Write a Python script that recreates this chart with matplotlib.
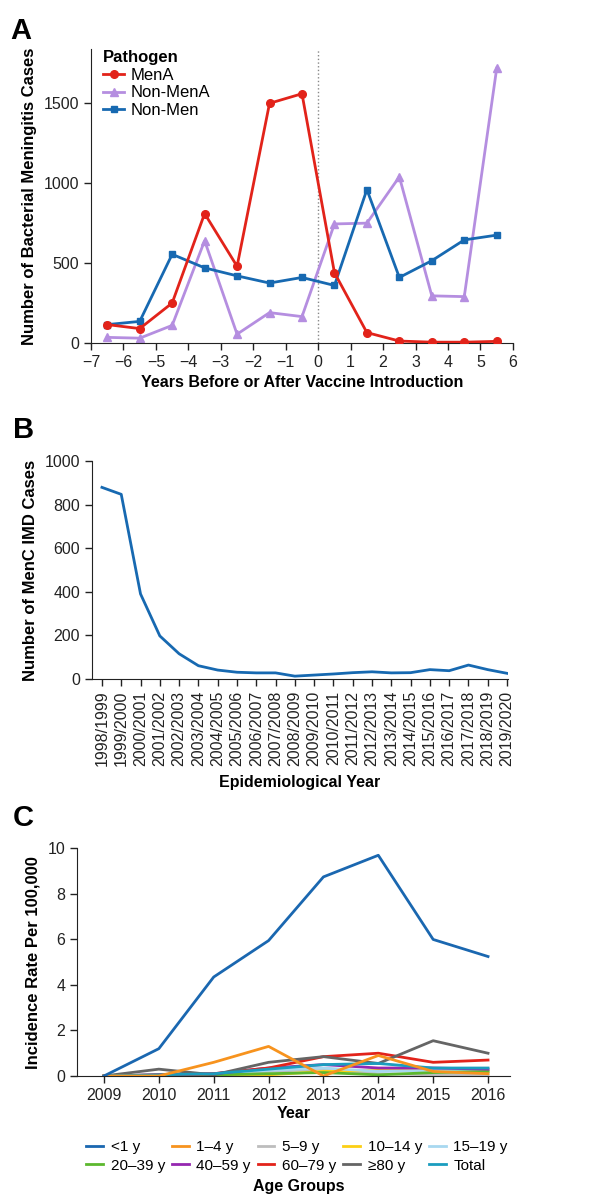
import matplotlib.pyplot as plt

plt.rcParams["font.family"] = ["Liberation Sans", "DejaVu Sans"]

# panel A: bacterial meningitis cases vs years from vaccine introduction
years_rel = [-6.5, -5.5, -4.5, -3.5, -2.5, -1.5, -0.5, 0.5, 1.5, 2.5, 3.5, 4.5, 5.5]
mena = [115, 90, 250, 810, 480, 1500, 1560, 440, 65, 12, 5, 5, 10]
non_mena = [35, 30, 110, 640, 55, 190, 165, 745, 750, 1040, 295, 290, 1720]
non_men = [115, 135, 555, 470, 420, 375, 410, 360, 960, 410, 515, 645, 675]

# panel B: MenC IMD cases by epidemiological year
epi_years = ["1998/1999", "1999/2000", "2000/2001", "2001/2002", "2002/2003",
             "2003/2004", "2004/2005", "2005/2006", "2006/2007", "2007/2008",
             "2008/2009", "2009/2010", "2010/2011", "2011/2012", "2012/2013",
             "2013/2014", "2014/2015", "2015/2016", "2016/2017", "2017/2018",
             "2018/2019", "2019/2020"]
menc_cases = [880, 848, 390, 197, 115, 60, 40, 30, 27, 27, 12, 17, 22, 28,
              32, 27, 28, 42, 37, 63, 42, 25]

# panel C: incidence per 100,000 by age group
years_c = [2009, 2010, 2011, 2012, 2013, 2014, 2015, 2016]
age_groups = ["<1 y", "1\u20134 y", "5\u20139 y", "10\u201314 y", "15\u201319 y",
              "20\u201339 y", "40\u201359 y", "60\u201379 y", "\u226580 y", "Total"]
inc_lt1 = [0, 1.2, 4.35, 5.95, 8.75, 9.7, 6.0, 5.25]
inc_1_4 = [0, 0, 0.6, 1.3, 0, 0.9, 0.2, 0.1]
inc_5_9 = [0, 0.05, 0.05, 0.2, 0.3, 0.1, 0.05, 0.05]
inc_10_14 = [0, 0, 0, 0.05, 0.2, 0.25, 0.3, 0.2]
inc_15_19 = [0, 0.05, 0.1, 0.25, 0.35, 0.2, 0.25, 0.25]
inc_20_39 = [0, 0, 0.05, 0.1, 0.15, 0.05, 0.15, 0.2]
inc_40_59 = [0, 0.05, 0.1, 0.35, 0.5, 0.35, 0.35, 0.3]
inc_60_79 = [0, 0.05, 0.1, 0.35, 0.85, 1.0, 0.6, 0.7]
inc_80 = [0, 0.3, 0.05, 0.6, 0.85, 0.55, 1.55, 1.0]
inc_total = [0, 0.05, 0.1, 0.3, 0.5, 0.55, 0.35, 0.35]

age_colors = ["#1a67b0", "#f7931e", "#bdbdbd", "#fccf14", "#a8d8f0",
              "#5cb82e", "#9527b0", "#e2231a", "#656565", "#1a9dbf"]

TICK_SIZE = 11.5
YLABEL_SIZE = 12
XLABEL_SIZE = 11.5


def style_axes(ax):
    ax.spines["top"].set_visible(False)
    ax.spines["right"].set_visible(False)
    ax.spines["left"].set_color("#222222")
    ax.spines["bottom"].set_color("#222222")
    ax.tick_params(direction="out", length=5, width=1, labelsize=TICK_SIZE, colors="#222222")


fig = plt.figure(figsize=(5.93, 11.95), dpi=100)

# ---- A
ax1 = fig.add_axes([0.1535, 0.713, 0.7115, 0.246])
style_axes(ax1)
ax1.axvline(0, color="#888888", linestyle=":", linewidth=1)
ax1.plot(years_rel, mena, color="#e2231a", marker="o", markersize=5.5, linewidth=2,
         label="MenA", zorder=4)
ax1.plot(years_rel, non_mena, color="#b58ee0", marker="^", markersize=5.5, linewidth=2,
         label="Non-MenA", zorder=2)
ax1.plot(years_rel, non_men, color="#1769b1", marker="s", markersize=5, linewidth=2,
         label="Non-Men", zorder=3)
ax1.set_xlim(-7, 6)
ax1.set_ylim(0, 1840)
ax1.set_xticks(range(-7, 7))
ax1.set_xticklabels([str(v).replace("-", "\u2212") for v in range(-7, 7)])
ax1.set_yticks([0, 500, 1000, 1500])
ax1.set_xlabel("Years Before or After Vaccine Introduction", fontsize=XLABEL_SIZE, fontweight="bold")
ax1.set_ylabel("Number of Bacterial Meningitis Cases", fontsize=YLABEL_SIZE, fontweight="bold", labelpad=5)
leg = ax1.legend(title="Pathogen", loc="upper left", bbox_to_anchor=(0.0, 1.035), frameon=False,
                 fontsize=12, handlelength=1.3, handletextpad=0.4, labelspacing=0.15,
                 borderaxespad=0.3)
leg.get_title().set_fontweight("bold")
leg.get_title().set_fontsize(12)
leg._legend_box.align = "left"

# ---- B
ax2 = fig.add_axes([0.155, 0.432, 0.702, 0.182])
style_axes(ax2)
ax2.plot(range(len(epi_years)), menc_cases, color="#1769b1", linewidth=2)
ax2.set_xlim(-0.52, 21.06)
ax2.set_ylim(0, 1000)
ax2.set_yticks([0, 200, 400, 600, 800, 1000])
ax2.set_xticks(range(len(epi_years)))
ax2.set_xticklabels(epi_years, rotation=90, fontsize=11.5)
ax2.set_xlabel("Epidemiological Year", fontsize=XLABEL_SIZE, fontweight="bold", labelpad=6)
ax2.set_ylabel("Number of MenC IMD Cases", fontsize=YLABEL_SIZE, fontweight="bold", labelpad=5)

# ---- C
ax3 = fig.add_axes([0.130, 0.0996, 0.730, 0.1904])
style_axes(ax3)
series_c = [inc_lt1, inc_1_4, inc_5_9, inc_10_14, inc_15_19,
            inc_20_39, inc_40_59, inc_60_79, inc_80, inc_total]
handles = []
for vals, name, col in zip(series_c, age_groups, age_colors):
    h, = ax3.plot(years_c, vals, color=col, linewidth=2, label=name)
    handles.append(h)
handles[0].set_zorder(5)
handles[1].set_zorder(4)
ax3.set_xlim(2008.51, 2016.4)
ax3.set_ylim(0, 10)
ax3.set_yticks([0, 2, 4, 6, 8, 10])
ax3.set_xticks(years_c)
ax3.set_xlabel("Year", fontsize=XLABEL_SIZE, fontweight="bold", labelpad=2)
ax3.set_ylabel("Incidence Rate Per 100,000", fontsize=YLABEL_SIZE, fontweight="bold", labelpad=5)
# legend fills column by column; reorder so rows read left to right
order = [0, 5, 1, 6, 2, 7, 3, 8, 4, 9]
leg3 = ax3.legend([handles[i] for i in order], [age_groups[i] for i in order],
                  ncol=5, loc="upper center", bbox_to_anchor=(0.508, -0.255),
                  frameon=False, fontsize=11, handlelength=1.1, handletextpad=0.5,
                  columnspacing=0.45, labelspacing=0.3, borderaxespad=0)
fig.text(0.503, 0.0067, "Age Groups", ha="center", va="center", fontsize=XLABEL_SIZE, fontweight="bold")

# panel letters
fig.text(0.017, 0.986, "A", fontsize=21, fontweight="bold", va="top")
fig.text(0.022, 0.652, "B", fontsize=21, fontweight="bold", va="top")
fig.text(0.022, 0.327, "C", fontsize=21, fontweight="bold", va="top")

fig.savefig("out.png", dpi=100)
